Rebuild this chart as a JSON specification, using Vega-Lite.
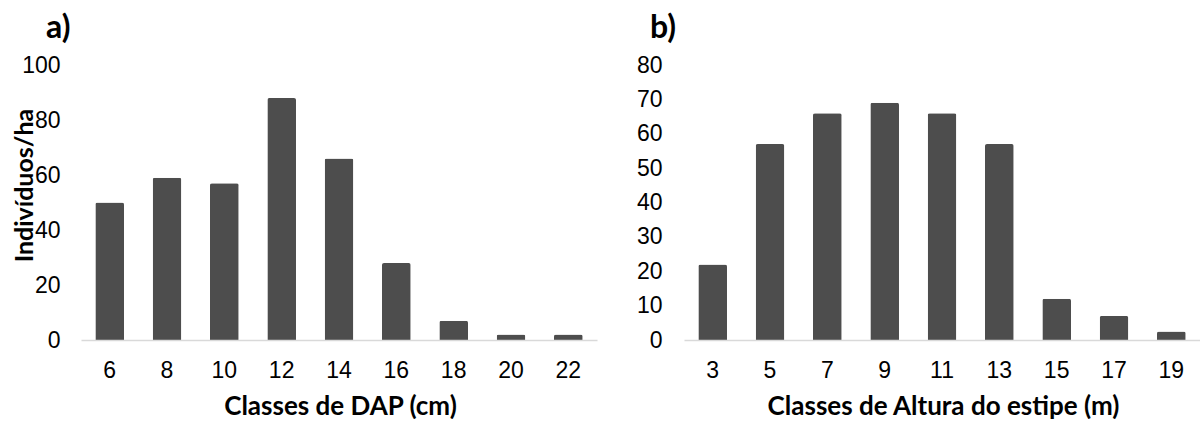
{
  "$schema": "https://vega.github.io/schema/vega-lite/v6.json",
  "autosize": {"type": "pad"},
  "padding": {"left": 11, "top": 12, "right": 0, "bottom": 0},
  "bounds": "flush",
  "spacing": 87,
  "config": {
    "view": {"stroke": null},
    "axis": {
      "labelFont": "Liberation Sans",
      "labelFontSize": 23,
      "labelColor": "#000000",
      "titleFont": "Lato",
      "titleFontSize": 25,
      "titleFontWeight": "bold",
      "titleColor": "#000000",
      "ticks": false,
      "tickSize": 0,
      "grid": false
    },
    "title": {"font": "Lato", "fontSize": 32, "fontWeight": "bold", "color": "#000000"}
  },
  "hconcat": [
    {
      "width": 516,
      "height": 275,
      "title": {"text": "a)", "anchor": "start", "frame": "group", "dx": -35, "baseline": "alphabetic", "offset": -16},
      "data": {"values": [
        {"classe": 6, "valor": 50},
        {"classe": 8, "valor": 59},
        {"classe": 10, "valor": 57},
        {"classe": 12, "valor": 88},
        {"classe": 14, "valor": 66},
        {"classe": 16, "valor": 28},
        {"classe": 18, "valor": 7},
        {"classe": 20, "valor": 2},
        {"classe": 22, "valor": 2}
      ]},
      "mark": {"type": "bar", "color": "#4d4d4d", "cornerRadiusTopLeft": 2, "cornerRadiusTopRight": 2},
      "encoding": {
        "x": {
          "field": "classe", "type": "ordinal",
          "scale": {"paddingInner": 0.5, "paddingOuter": 0.25},
          "axis": {
            "title": "Classes de DAP (cm)",
            "labelAngle": 0, "labelPadding": 19, "labelBaseline": "top",
            "domainColor": "#d9d9d9", "domainWidth": 1.5, "zindex": 1,
            "titleFontSize": 26,
            "titleX": 259, "titleY": 66, "titleBaseline": "middle", "titleAlign": "center"
          }
        },
        "y": {
          "field": "valor", "type": "quantitative",
          "scale": {"domain": [0, 100], "nice": false},
          "axis": {
            "title": "Indivíduos/ha",
            "values": [0, 20, 40, 60, 80, 100],
            "domain": false, "labelPadding": 21,
            "titleX": -57, "titleY": 120, "titleBaseline": "middle", "titleAlign": "center", "titleAngle": -90
          }
        }
      }
    },
    {
      "width": 516,
      "height": 275,
      "title": {"text": "b)", "anchor": "start", "frame": "group", "dx": -34, "baseline": "alphabetic", "offset": -16},
      "data": {"values": [
        {"classe": 3, "valor": 22},
        {"classe": 5, "valor": 57},
        {"classe": 7, "valor": 66},
        {"classe": 9, "valor": 69},
        {"classe": 11, "valor": 66},
        {"classe": 13, "valor": 57},
        {"classe": 15, "valor": 12},
        {"classe": 17, "valor": 7},
        {"classe": 19, "valor": 2.5}
      ]},
      "mark": {"type": "bar", "color": "#4d4d4d", "cornerRadiusTopLeft": 2, "cornerRadiusTopRight": 2},
      "encoding": {
        "x": {
          "field": "classe", "type": "ordinal",
          "scale": {"paddingInner": 0.5, "paddingOuter": 0.25},
          "axis": {
            "title": "Classes de Altura do estipe (m)",
            "labelAngle": 0, "labelPadding": 19, "labelBaseline": "top",
            "domainColor": "#d9d9d9", "domainWidth": 1.5, "zindex": 1,
            "titleFontSize": 26,
            "titleX": 259, "titleY": 66, "titleBaseline": "middle", "titleAlign": "center"
          }
        },
        "y": {
          "field": "valor", "type": "quantitative",
          "scale": {"domain": [0, 80], "nice": false},
          "axis": {
            "title": null,
            "values": [0, 10, 20, 30, 40, 50, 60, 70, 80],
            "domain": false, "labelPadding": 22
          }
        }
      }
    }
  ]
}
